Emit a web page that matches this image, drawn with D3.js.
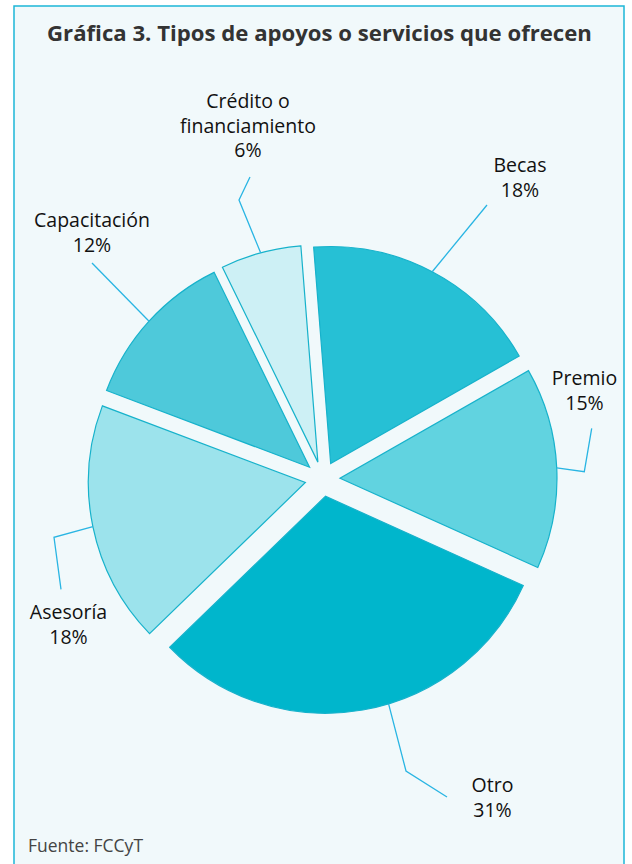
<!DOCTYPE html>
<html>
<head>
<meta charset="utf-8">
<script src="https://cdn.jsdelivr.net/npm/d3@7"></script>
<style>
  body { margin: 0; background: #fff; }
  svg { display: block; font-family: "Open Sans", sans-serif; }
</style>
</head>
<body>
<div id="viz"></div>
<script>
// data
var categories = ["Becas", "Premio", "Otro", "Asesoría", "Capacitación", "Crédito o financiamiento"];
var values = [18, 15, 31, 18, 12, 6];
var labelLines = [["Becas"], ["Premio"], ["Otro"], ["Asesoría"], ["Capacitación"], ["Crédito o", "financiamiento"]];
var colors = ["#26c0d5", "#61d3e0", "#00b6cc", "#9ce3ec", "#4ec9da", "#cdf0f5"];

var width = 632, height = 864;
var cx = 322.5, cy = 479, radius = 217, explode = 17.5;
var rad = Math.PI / 180;

// label anchors & leader points, relative to pie centre
var layout = {
  "Becas":        { x: 197.5, y: -307, leader: [[164.5, -274]], shift: 0 },
  "Premio":       { x: 262, y: -94, leader: [[261.8, -7.3], [269.2, -50.7]], shift: 0 },
  "Otro":         { x: 170, y: 313, leader: [[83.5, 292], [124.5, 318]], shift: -7 },
  "Asesoría":     { x: -254, y: 140, leader: [[-268.5, 58.3], [-261.5, 110.3]], shift: 0 },
  "Capacitación": { x: -230.5, y: -252, leader: [[-230.5, -216]], shift: 0 },
  "Crédito o financiamiento": { x: -74.5, y: -371, leader: [[-83.5, -279], [-72.5, -302]], shift: 0 }
};

var svg = d3.select("#viz").append("svg").attr("width", width).attr("height", height);

svg.append("rect")
    .attr("x", 14).attr("y", 6)
    .attr("width", 610).attr("height", 900)
    .attr("fill", "#f1f9fb")
    .attr("stroke", "#1cb6d7")
    .attr("stroke-width", 1.5);

var title = svg.append("text")
    .attr("x", 319.5).attr("y", 41)
    .attr("text-anchor", "middle")
    .attr("font-weight", "bold")
    .attr("font-size", 24)
    .attr("fill", "#333")
    .text("Gráfica 3. Tipos de apoyos o servicios que ofrecen");
// fit title to its width in the picture
var tw = title.node().getComputedTextLength();
title.attr("font-size", 24 * 545 / tw);

var pie = d3.pie()
    .sort(null)
    .value(function(d) { return d; })
    .startAngle(-4.5 * rad)
    .endAngle(355.5 * rad);

var arc = d3.arc().innerRadius(0).outerRadius(radius);

var arcs = pie(values);

var g = svg.append("g").attr("transform", "translate(" + cx + "," + cy + ")");

function offset(d) {
  var a = (d.startAngle + d.endAngle) / 2;
  return [explode * Math.sin(a), -explode * Math.cos(a)];
}

g.selectAll("path.slice")
  .data(arcs)
  .enter().append("path")
    .attr("class", "slice")
    .attr("transform", function(d) { var o = offset(d); return "translate(" + o[0] + "," + o[1] + ")"; })
    .attr("d", arc)
    .attr("fill", function(d, i) { return colors[i]; })
    .attr("stroke", "#17b2cb")
    .attr("stroke-width", 1.2)
    .attr("stroke-linejoin", "miter");

// leader lines
g.selectAll("path.leader")
  .data(arcs)
  .enter().append("path")
    .attr("class", "leader")
    .attr("fill", "none")
    .attr("stroke", "#29b5e3")
    .attr("stroke-width", 1.3)
    .attr("d", function(d, i) {
      var l = layout[categories[i]];
      var o = offset(d);
      var a = (d.startAngle + d.endAngle) / 2 + l.shift * rad;
      var start = [o[0] + radius * Math.sin(a), o[1] - radius * Math.cos(a)];
      return d3.line()([start].concat(l.leader));
    });

// labels
var lab = g.selectAll("text.lab")
  .data(arcs)
  .enter().append("text")
    .attr("class", "lab")
    .attr("text-anchor", "middle")
    .attr("font-size", 19.5)
    .attr("fill", "#111");

lab.each(function(d, i) {
  var l = layout[categories[i]];
  var lines = labelLines[i].concat([values[i] + "%"]);
  d3.select(this).selectAll("tspan")
    .data(lines)
    .enter().append("tspan")
      .attr("x", l.x)
      .attr("y", function(t, j) { return l.y + j * 24.5; })
      .text(function(t) { return t; });
});

svg.append("text")
    .attr("x", 28).attr("y", 852)
    .attr("font-size", 17.5)
    .attr("fill", "#444")
    .text("Fuente: FCCyT");
</script>
</body>
</html>
